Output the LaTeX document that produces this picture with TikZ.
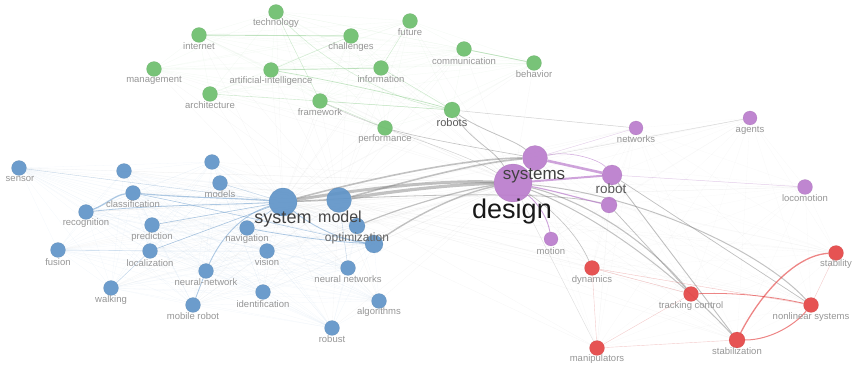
\documentclass[tikz,border=0pt]{standalone}
\usepackage{fontspec}
\setmainfont{Liberation Sans}
\pgfdeclarelayer{background}
\pgfsetlayers{background,main}
\definecolor{cgreen}{RGB}{108,190,108}
\definecolor{cblue}{RGB}{95,148,200}
\definecolor{cpurple}{RGB}{186,124,204}
\definecolor{cred}{RGB}{228,68,68}
\definecolor{labgray}{RGB}{150,150,150}
\definecolor{hubgray}{RGB}{120,120,120}
\tikzset{
  kw/.style={circle, inner sep=0pt, fill=#1, draw=#1!80!black, line width=0.3pt, fill opacity=0.92, draw opacity=0.4},
  gk/.style={kw=cgreen, minimum size=15pt},
  bk/.style={kw=cblue, minimum size=15pt},
  pk/.style={kw=cpurple, minimum size=15pt},
  rk/.style={kw=cred, minimum size=15pt},
  lbl/.style={font=\fontsize{9.5}{10}\selectfont, text=labgray, inner sep=0pt},
  biglbl/.style={font=\fontsize{#1}{#1}\selectfont, inner sep=0pt},
  haze/.style={draw=gray, line width=0.3pt, opacity=0.08},
  hub/.style={draw=hubgray, opacity=0.45},
  gline/.style={draw=cgreen, opacity=0.4},
  bline/.style={draw=cblue, opacity=0.5},
  pline/.style={draw=cpurple, opacity=0.7},
  rline/.style={draw=cred, opacity=0.65},
}
\begin{document}
\begin{tikzpicture}[x=1pt,y=-1pt]
\useasboundingbox (0,0) rectangle (855,366);

% ---- keyword circles: green cluster
\node[gk] (technology) at (276,12) {};
\node[gk] (internet) at (199,35) {};
\node[gk] (challenges) at (351,36) {};
\node[gk] (future) at (410,21) {};
\node[gk] (communication) at (464,49) {};
\node[gk] (behavior) at (534,63) {};
\node[gk] (management) at (154,69) {};
\node[gk] (artint) at (271,70) {};
\node[gk] (information) at (381,68) {};
\node[gk] (architecture) at (210,94) {};
\node[gk] (framework) at (320,101) {};
\node[gk, minimum size=16pt] (robots) at (452,110) {};
\node[gk] (performance) at (385,128) {};

% ---- blue cluster
\node[bk] (sensor) at (19,168) {};
\node[bk] (bx1) at (124,171) {};
\node[bk] (classification) at (133,193) {};
\node[bk] (recognition) at (86,212) {};
\node[bk] (prediction) at (152,225) {};
\node[bk] (fusion) at (58,250) {};
\node[bk] (localization) at (150,251) {};
\node[bk] (walking) at (111,288) {};
\node[bk] (neuralnetwork) at (206,271) {};
\node[bk] (mobilerobot) at (193,305) {};
\node[bk] (identification) at (263,292) {};
\node[bk] (bx2) at (212,162) {};
\node[bk] (models) at (220,183) {};
\node[bk] (navigation) at (247,228) {};
\node[bk] (vision) at (267,251) {};
\node[bk, minimum size=28pt] (system) at (283,202) {};
\node[bk, minimum size=25pt] (model) at (339,200) {};
\node[bk, minimum size=16pt] (bx3) at (357,226) {};
\node[bk, minimum size=18pt] (optimization) at (374,244) {};
\node[bk] (neuralnetworks) at (348,268) {};
\node[bk] (algorithms) at (379,301) {};
\node[bk] (robust) at (332,328) {};

% ---- purple cluster
\node[pk, minimum size=38pt] (design) at (513,183) {};
\node[pk, minimum size=25pt] (systems) at (535,158) {};
\node[pk, minimum size=20pt] (robot) at (612,175) {};
\node[pk, minimum size=16pt] (px1) at (609,205) {};
\node[pk, minimum size=14pt] (networks) at (636,128) {};
\node[pk, minimum size=14pt] (agents) at (750,118) {};
\node[pk] (locomotion) at (805,187) {};
\node[pk, minimum size=14pt] (motion) at (551,239) {};

% ---- red cluster
\node[rk] (dynamics) at (592,268) {};
\node[rk] (tracking) at (691,294) {};
\node[rk] (stability) at (836,253) {};
\node[rk] (nonlinear) at (811,305) {};
\node[rk, minimum size=16pt] (stabilization) at (737,340) {};
\node[rk] (manipulators) at (597,348) {};

% ---- links
\begin{pgfonlayer}{background}
  % faint background web towards the hubs
  \foreach \a in {technology,internet,challenges,future,communication,behavior,management,artint,information,architecture,framework,robots,performance,sensor,bx1,classification,recognition,prediction,fusion,localization,walking,neuralnetwork,mobilerobot,identification,bx2,models,navigation,vision,bx3,optimization,neuralnetworks,algorithms,robust,networks,agents,locomotion,motion,dynamics,tracking,stability,nonlinear,stabilization,manipulators}{
    \draw[haze] (\a) -- (design);
    \draw[haze] (\a) -- (system);
    \draw[haze] (\a) -- (model);
  }
  % faint links inside the green cluster
  \foreach \a [count=\i] in {technology,internet,challenges,future,communication,behavior,management,artint,information,architecture,framework,robots,performance}{
    \foreach \b [count=\j] in {technology,internet,challenges,future,communication,behavior,management,artint,information,architecture,framework,robots,performance}{
      \ifnum\j>\i \draw[draw=cgreen, line width=0.3pt, opacity=0.08] (\a) -- (\b);\fi
    }
  }
  % faint links inside the blue cluster
  \foreach \a [count=\i] in {sensor,bx1,classification,recognition,prediction,fusion,localization,walking,neuralnetwork,mobilerobot,identification,bx2,models,navigation,vision,bx3,optimization,neuralnetworks,algorithms,robust}{
    \foreach \b [count=\j] in {sensor,bx1,classification,recognition,prediction,fusion,localization,walking,neuralnetwork,mobilerobot,identification,bx2,models,navigation,vision,bx3,optimization,neuralnetworks,algorithms,robust}{
      \ifnum\j>\i \draw[draw=cblue, line width=0.3pt, opacity=0.07] (\a) -- (\b);\fi
    }
  }
  % faint links of the red and purple clusters
  \foreach \a [count=\i] in {systems,robot,px1,networks,agents,locomotion,motion,dynamics,tracking,stability,nonlinear,stabilization,manipulators}{
    \foreach \b [count=\j] in {systems,robot,px1,networks,agents,locomotion,motion,dynamics,tracking,stability,nonlinear,stabilization,manipulators}{
      \ifnum\j>\i \draw[haze, opacity=0.06] (\a) -- (\b);\fi
    }
  }

  % strong grey bundle between the blue hubs and design
  \draw[hub, line width=3pt] (system) .. controls (380,186) and (450,180) .. (design);
  \draw[hub, line width=3.2pt] (model) .. controls (400,190) and (460,184) .. (design);
  \draw[hub, line width=1.6pt] (model) .. controls (420,178) and (480,162) .. (systems);
  \draw[hub, line width=1.6pt] (system) .. controls (380,176) and (470,158) .. (systems);
  \draw[hub, line width=1.4pt] (optimization) .. controls (420,212) and (465,192) .. (design);
  \draw[hub, line width=1.2pt] (bx3) .. controls (410,204) and (470,188) .. (design);
  \draw[hub, line width=1pt] (system) -- (model);
  \draw[hub, line width=0.8pt] (system) .. controls (400,195) and (550,190) .. (px1);
  \draw[hub, line width=0.8pt] (robots) .. controls (470,140) and (495,150) .. (design);
  \draw[hub, line width=0.8pt] (robots) .. controls (480,130) and (515,140) .. (systems);
  \draw[hub, line width=0.6pt] (performance) .. controls (430,140) and (490,150) .. (systems);
  \draw[hub, line width=0.5pt, opacity=0.35] (robots) -- (networks);
  \draw[hub, line width=0.5pt, opacity=0.35] (framework) .. controls (380,130) and (460,150) .. (design);

  % grey links from design and robot into the red cluster
  \draw[hub, line width=1.1pt] (design) .. controls (600,205) and (660,255) .. (tracking);
  \draw[hub, line width=1pt] (design) .. controls (620,225) and (700,300) .. (stabilization);
  \draw[hub, line width=1pt] (design) .. controls (640,195) and (760,250) .. (nonlinear);
  \draw[hub, line width=0.9pt] (robot) -- (stabilization);
  \draw[hub, line width=0.7pt] (robot) -- (nonlinear);
  \draw[hub, line width=0.7pt] (px1) -- (tracking);
  \draw[hub, line width=0.6pt] (design) .. controls (560,215) and (580,240) .. (dynamics);
  \draw[hub, line width=0.4pt, opacity=0.25] (systems) -- (agents);
  \draw[hub, line width=0.4pt, opacity=0.2] (design) -- (manipulators);

  % purple links
  \draw[pline, line width=2.6pt] (systems) -- (robot);
  \draw[pline, line width=2pt] (design) -- (robot);
  \draw[pline, line width=1.1pt] (design) .. controls (560,192) and (585,200) .. (px1);
  \draw[pline, line width=0.9pt] (design) .. controls (540,205) and (548,220) .. (motion);
  \draw[pline, line width=0.5pt] (systems) .. controls (570,150) and (600,160) .. (robot);
  \draw[pline, line width=0.5pt, opacity=0.35] (robot) -- (locomotion);
  \draw[pline, line width=0.4pt, opacity=0.35] (systems) -- (networks);

  % red links
  \draw[rline, line width=1.3pt] (stabilization) .. controls (760,295) and (795,255) .. (stability);
  \draw[rline, line width=1pt] (stabilization) .. controls (770,340) and (795,325) .. (nonlinear);
  \draw[rline, line width=0.8pt] (tracking) .. controls (740,292) and (780,298) .. (nonlinear);
  \draw[rline, line width=0.4pt, opacity=0.3] (dynamics) -- (nonlinear);
  \draw[rline, line width=0.4pt, opacity=0.3] (dynamics) -- (tracking);
  \draw[rline, line width=0.4pt, opacity=0.25] (manipulators) -- (tracking);
  \draw[rline, line width=0.4pt, opacity=0.25] (manipulators) -- (stabilization);
  \draw[rline, line width=0.4pt, opacity=0.25] (stability) -- (nonlinear);
  \draw[rline, line width=0.4pt, opacity=0.25] (dynamics) -- (manipulators);

  % green links
  \draw[gline, line width=0.9pt] (internet) -- (challenges);
  \draw[gline, line width=0.7pt] (artint) -- (information);
  \draw[gline, line width=0.7pt] (artint) .. controls (330,80) and (420,100) .. (robots);
  \draw[gline, line width=0.8pt] (communication) -- (behavior);
  \draw[gline, line width=0.5pt, opacity=0.3] (technology) .. controls (320,60) and (390,100) .. (robots);
  \draw[gline, line width=0.5pt, opacity=0.3] (information) -- (robots);
  \draw[gline, line width=0.4pt, opacity=0.3] (technology) -- (framework);
  \draw[gline, line width=0.4pt, opacity=0.3] (architecture) -- (framework);
  \draw[gline, line width=0.5pt] (framework) -- (robots);
  \draw[gline, line width=0.4pt, opacity=0.3] (challenges) -- (artint);
  \draw[gline, line width=0.4pt, opacity=0.3] (future) -- (information);
  \draw[gline, line width=0.4pt, opacity=0.3] (framework) -- (performance);

  % blue links
  \draw[bline, line width=1.3pt] (recognition) .. controls (105,205) and (115,195) .. (classification);
  \draw[bline, line width=1.1pt] (classification) .. controls (190,198) and (240,198) .. (system);
  \draw[bline, line width=0.8pt] (recognition) .. controls (150,205) and (220,205) .. (system);
  \draw[bline, line width=0.9pt] (neuralnetwork) .. controls (220,240) and (240,215) .. (system);
  \draw[bline, line width=0.8pt] (mobilerobot) -- (neuralnetwork);
  \draw[bline, line width=0.8pt] (navigation) .. controls (300,238) and (340,242) .. (optimization);
  \draw[bline, line width=0.9pt] (system) .. controls (310,225) and (340,240) .. (optimization);
  \draw[bline, line width=0.6pt] (prediction) -- (system);
  \draw[bline, line width=0.6pt] (localization) -- (system);
  \draw[bline, line width=0.5pt] (classification) .. controls (220,210) and (320,235) .. (optimization);
  \draw[bline, line width=0.4pt, opacity=0.35] (sensor) -- (system);
  \draw[bline, line width=0.5pt] (navigation) -- (system);
  \draw[bline, line width=0.4pt, opacity=0.35] (fusion) -- (localization);
  \draw[bline, line width=0.4pt, opacity=0.35] (walking) -- (localization);
  \draw[bline, line width=0.4pt, opacity=0.35] (models) -- (system);
  \draw[bline, line width=0.4pt, opacity=0.35] (neuralnetworks) -- (model);
\end{pgfonlayer}

% ---- labels
\node[lbl] (technology-l) at (276,23) {technology};
\node[lbl] (internet-l) at (199,46) {internet};
\node[lbl] (challenges-l) at (351,47) {challenges};
\node[lbl] (future-l) at (410,32) {future};
\node[lbl] (communication-l) at (464,61) {communication};
\node[lbl] (behavior-l) at (534,74) {behavior};
\node[lbl] (management-l) at (154,80) {management};
\node[lbl] (artint-l) at (271,81) {artificial-intelligence};
\node[lbl] (information-l) at (381,79) {information};
\node[lbl] (architecture-l) at (210,105) {architecture};
\node[lbl] (framework-l) at (320,112) {framework};
\node[biglbl=11, text=black!65] (robots-l) at (452,123) {robots};
\node[lbl] (performance-l) at (385,139) {performance};

\node[lbl] (sensor-l) at (20,179) {sensor};
\node[lbl] (classification-l) at (133,204) {classification};
\node[lbl] (recognition-l) at (86,223) {recognition};
\node[lbl] (prediction-l) at (152,237) {prediction};
\node[lbl] (fusion-l) at (58,262) {fusion};
\node[lbl] (localization-l) at (150,263) {localization};
\node[lbl] (walking-l) at (111,300) {walking};
\node[lbl] (neuralnetwork-l) at (206,282) {neural-network};
\node[lbl] (mobilerobot-l) at (193,316) {mobile robot};
\node[lbl] (identification-l) at (263,304) {identification};
\node[lbl] (models-l) at (220,194) {models};
\node[lbl] (navigation-l) at (247,239) {navigation};
\node[lbl] (vision-l) at (267,262) {vision};
\node[biglbl=18, text=black!75] (system-l) at (283,220) {system};
\node[biglbl=16, text=black!72] (model-l) at (340,217) {model};
\node[biglbl=12, text=black!60] (optimization-l) at (357,238) {optimization};
\node[lbl] (neuralnetworks-l) at (348,279) {neural networks};
\node[lbl] (algorithms-l) at (379,312) {algorithms};
\node[lbl] (robust-l) at (332,339) {robust};

\node[biglbl=27, text=black!90] (design-l) at (512,212) {design};
\node[biglbl=17, text=black!75] (systems-l) at (534,176) {systems};
\node[biglbl=13.5, text=black!65] (robot-l) at (611,189) {robot};
\node[lbl] (networks-l) at (636,139) {networks};
\node[lbl] (agents-l) at (750,130) {agents};
\node[lbl] (locomotion-l) at (805,198) {locomotion};
\node[lbl] (motion-l) at (551,251) {motion};

\node[lbl] (dynamics-l) at (592,280) {dynamics};
\node[lbl] (tracking-l) at (691,306) {tracking control};
\node[lbl] (stability-l) at (836,264) {stability};
\node[lbl] (nonlinear-l) at (811,317) {nonlinear systems};
\node[lbl] (stabilization-l) at (737,351) {stabilization};
\node[lbl] (manipulators-l) at (597,359) {manipulators};
\end{tikzpicture}
\end{document}
